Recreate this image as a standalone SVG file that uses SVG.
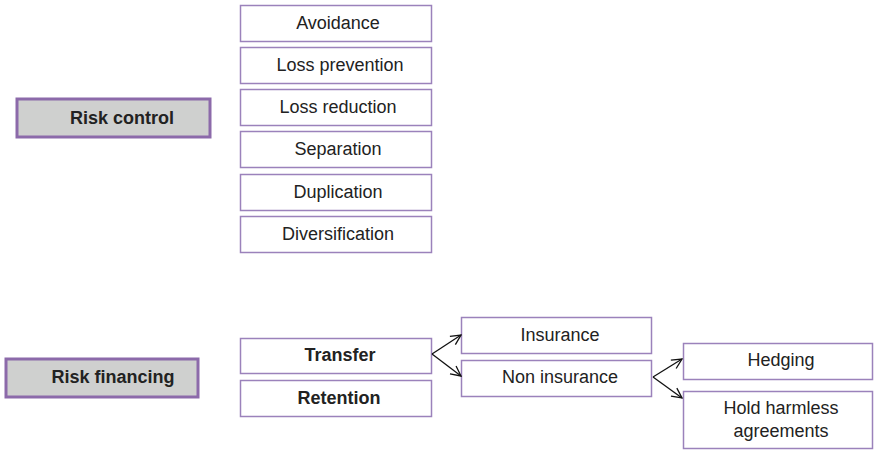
<svg xmlns="http://www.w3.org/2000/svg" width="874" height="450" viewBox="0 0 874 450">
<defs>
<style>
.box{fill:#ffffff;stroke:#9b82bb;stroke-width:1.5}
.main{fill:#cfd0cf;stroke:#8c6aaa;stroke-width:3}
.t{font-family:"Liberation Sans",Arial,sans-serif;font-size:18px;fill:#222;text-anchor:middle}
.b{font-weight:bold}
.c{stroke:#111;stroke-width:1.3;fill:none}
</style>
<marker id="arr" viewBox="0 0 12 12" refX="11" refY="6" markerWidth="12" markerHeight="12" markerUnits="userSpaceOnUse" orient="auto">
<path d="M1,1 L11,6 L1,11" fill="none" stroke="#111" stroke-width="1.3"/>
</marker>
</defs>
<rect width="874" height="450" fill="#fff"/>
<g id="risk-control"><rect class="main" x="17" y="99" width="193" height="38"/><text class="t b" x="122" y="124">Risk control</text></g>
<g id="avoidance"><rect class="box" x="240.5" y="5.5" width="191" height="36"/><text class="t" x="338" y="29">Avoidance</text></g>
<g id="loss-prevention"><rect class="box" x="240.5" y="47.5" width="191" height="36"/><text class="t" x="340" y="71">Loss prevention</text></g>
<g id="loss-reduction"><rect class="box" x="240.5" y="89.5" width="191" height="36"/><text class="t" x="338" y="113">Loss reduction</text></g>
<g id="separation"><rect class="box" x="240.5" y="131.5" width="191" height="36"/><text class="t" x="338" y="155">Separation</text></g>
<g id="duplication"><rect class="box" x="240.5" y="174.5" width="191" height="36"/><text class="t" x="338" y="198">Duplication</text></g>
<g id="diversification"><rect class="box" x="240.5" y="216.5" width="191" height="36"/><text class="t" x="338" y="240">Diversification</text></g>
<g id="risk-financing"><rect class="main" x="6" y="359" width="192" height="38"/><text class="t b" x="113" y="383">Risk financing</text></g>
<g id="transfer"><rect class="box" x="240.5" y="338.5" width="191" height="35"/><text class="t b" x="340" y="361">Transfer</text></g>
<g id="retention"><rect class="box" x="240.5" y="380.5" width="191" height="36"/><text class="t b" x="339" y="404">Retention</text></g>
<g id="insurance"><rect class="box" x="461.5" y="317.5" width="190" height="36"/><text class="t" x="560" y="341">Insurance</text></g>
<g id="non-insurance"><rect class="box" x="461.5" y="360.5" width="190" height="36"/><text class="t" x="560" y="383">Non insurance</text></g>
<g id="hedging"><rect class="box" x="683.5" y="343.5" width="189" height="36"/><text class="t" x="781" y="366">Hedging</text></g>
<g id="hold-harmless"><rect class="box" x="683.5" y="391.5" width="189" height="57"/><text class="t" x="781" y="414">Hold harmless</text><text class="t" x="781" y="437">agreements</text></g>
<g id="connectors">
<line class="c" x1="432" y1="354" x2="461" y2="335" marker-end="url(#arr)"/>
<line class="c" x1="432" y1="354" x2="461" y2="376" marker-end="url(#arr)"/>
<line class="c" x1="653" y1="377" x2="682" y2="359" marker-end="url(#arr)"/>
<line class="c" x1="653" y1="377" x2="682" y2="398" marker-end="url(#arr)"/>
</g>
</svg>
